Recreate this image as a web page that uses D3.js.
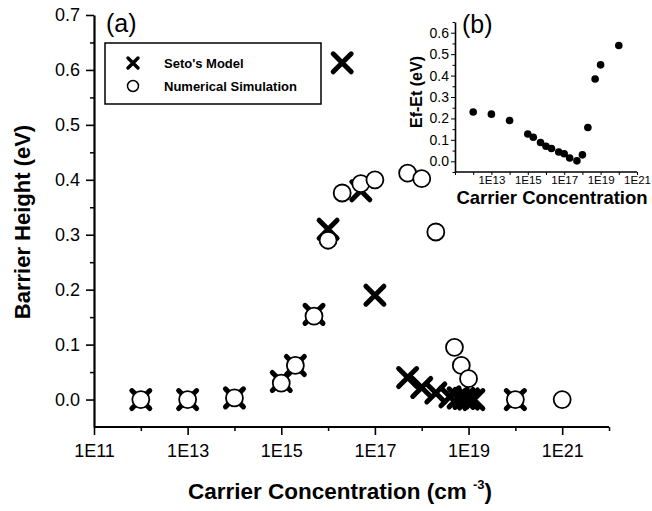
<!DOCTYPE html>
<html>
<head>
<meta charset="utf-8">
<script src="https://cdn.jsdelivr.net/npm/d3@7"></script>
<style>
  body { margin: 0; background: #fff; }
  text { font-family: "Liberation Sans", Arial, sans-serif; fill: #000; }
  .axis path, .axis line { stroke: #000; }
</style>
</head>
<body>
<script>
// main plot data (a)
var setoX = [1e12, 1e13, 1e14, 1e15, 2e15, 5e15, 1e16, 2e16, 5e16, 1e17, 5e17, 1e18, 2e18, 4e18, 6e18, 8e18, 1e19, 1.3e19, 1e20];
var setoY = [0, 0, 0.003, 0.033, 0.062, 0.155, 0.31, 0.613, 0.38, 0.19, 0.04, 0.022, 0.012, 0.005, 0.003, 0.002, 0.001, 0, 0];
var simX = [1e12, 1e13, 1e14, 1e15, 2e15, 5e15, 1e16, 2e16, 5e16, 1e17, 5e17, 1e18, 2e18, 5e18, 7e18, 1e19, 1e20, 1e21];
var simY = [0, 0, 0.003, 0.03, 0.062, 0.152, 0.29, 0.376, 0.393, 0.40, 0.412, 0.402, 0.305, 0.095, 0.062, 0.038, 0, 0];

// inset data (b)
var insetX = [1e12, 1e13, 1e14, 1e15, 2e15, 5e15, 1e16, 2e16, 5e16, 1e17, 2e17, 5e17, 1e18, 2e18, 5e18, 1e19, 1e20];
var insetY = [0.23, 0.22, 0.19, 0.127, 0.112, 0.088, 0.07, 0.06, 0.043, 0.035, 0.015, 0.002, 0.03, 0.158, 0.384, 0.45, 0.54];

var xMajor = [1e11, 1e13, 1e15, 1e17, 1e19, 1e21];
var xMinor = [1e12, 1e14, 1e16, 1e18, 1e20, 1e22];
var yMajor = [0, 0.1, 0.2, 0.3, 0.4, 0.5, 0.6, 0.7];
var yMinor = [0.05, 0.15, 0.25, 0.35, 0.45, 0.55, 0.65];
var insetXLabels = [1e13, 1e15, 1e17, 1e19, 1e21];
var insetXTicks = [1e11, 1e12, 1e13, 1e14, 1e15, 1e16, 1e17, 1e18, 1e19, 1e20, 1e21];
var insetYMajor = [0, 0.1, 0.2, 0.3, 0.4, 0.5, 0.6];
var insetYMinor = [-0.05, 0.05, 0.15, 0.25, 0.35, 0.45, 0.55, 0.65];

var w = 652;
var h = 511;
var svg = d3.select("body")
    .append("svg")
    .attr("width", w)
    .attr("height", h);

function expLabel(d) {
    return "1E" + Math.round(Math.log10(d));
}

// ----- main plot -----
var xScale = d3.scaleLog().domain([1e11, 1e22]).range([94, 609]);
var yScale = d3.scaleLinear().domain([-0.05, 0.7]).range([427, 15]);

// minor ticks first
svg.append("g")
    .attr("class", "axis")
    .attr("transform", "translate(0,427)")
    .call(d3.axisBottom(xScale).tickValues(xMinor).tickSize(4).tickSizeOuter(0).tickFormat(""))
    .call(function (g) { g.select(".domain").remove(); })
    .selectAll("line").attr("stroke-width", 1.5);

svg.append("g")
    .attr("class", "axis")
    .attr("transform", "translate(94,0)")
    .call(d3.axisLeft(yScale).tickValues(yMinor).tickSize(4).tickSizeOuter(0).tickFormat(""))
    .call(function (g) { g.select(".domain").remove(); })
    .selectAll("line").attr("stroke-width", 1.5);

var xAxis = svg.append("g")
    .attr("class", "axis")
    .attr("transform", "translate(0,427)")
    .call(d3.axisBottom(xScale).tickValues(xMajor).tickSize(8).tickSizeOuter(0).tickPadding(9).tickFormat(expLabel));
xAxis.select(".domain").attr("stroke-width", 2.2).attr("d", "M94,0H609");
xAxis.selectAll("line").attr("stroke-width", 1.6);
xAxis.selectAll("text").style("font-size", "18px");

var yAxis = svg.append("g")
    .attr("class", "axis")
    .attr("transform", "translate(94,0)")
    .call(d3.axisLeft(yScale).tickValues(yMajor).tickSize(8).tickSizeOuter(0).tickPadding(6).tickFormat(d3.format(".1f")));
yAxis.select(".domain").attr("stroke-width", 2.2);
yAxis.selectAll("line").attr("stroke-width", 1.6);
yAxis.selectAll("text").style("font-size", "18px");

var xLabel = svg.append("text")
    .attr("x", 340)
    .attr("y", 499)
    .attr("text-anchor", "middle")
    .attr("font-weight", "bold")
    .style("font-size", "22.5px");
xLabel.append("tspan").text("Carrier Concentration (cm ");
xLabel.append("tspan").attr("dy", -10).style("font-size", "13px").text("-3");
xLabel.append("tspan").attr("dy", 10).text(")");

svg.append("text")
    .attr("transform", "translate(30,222) rotate(-90)")
    .attr("text-anchor", "middle")
    .attr("font-weight", "bold")
    .style("font-size", "22px")
    .text("Barrier Height (eV)");

svg.append("text")
    .attr("x", 106)
    .attr("y", 32)
    .style("font-size", "25px")
    .text("(a)");

var setoData = setoX.map(function (x, i) { return { x: x, y: setoY[i] }; });
var simData = simX.map(function (x, i) { return { x: x, y: simY[i] }; });

function drawX(g, cx, cy, r, sw) {
    g.append("path")
        .attr("d", "M" + (cx - r) + "," + (cy - r) + "L" + (cx + r) + "," + (cy + r) +
            "M" + (cx - r) + "," + (cy + r) + "L" + (cx + r) + "," + (cy - r))
        .attr("stroke", "#000")
        .attr("stroke-width", sw)
        .attr("stroke-linecap", "round");
}

// Seto's model crosses, simulation circles on top
var marks = svg.append("g");
setoData.forEach(function (d) {
    drawX(marks, xScale(d.x), yScale(d.y), 9, 5);
});

marks.selectAll("circle")
    .data(simData)
    .enter()
    .append("circle")
    .attr("cx", function (d) { return xScale(d.x); })
    .attr("cy", function (d) { return yScale(d.y); })
    .attr("r", 8.5)
    .attr("fill", "#fff")
    .attr("stroke", "#000")
    .attr("stroke-width", 1.8);

// legend
var legend = svg.append("g");
legend.append("rect")
    .attr("x", 105).attr("y", 43)
    .attr("width", 216).attr("height", 61)
    .attr("fill", "#fff")
    .attr("stroke", "#000")
    .attr("stroke-width", 1.5);
drawX(legend, 133, 63, 5, 3.5);
legend.append("circle")
    .attr("cx", 133).attr("cy", 86).attr("r", 5.5)
    .attr("fill", "#fff").attr("stroke", "#000").attr("stroke-width", 1.5);
legend.append("text")
    .attr("x", 164).attr("y", 68)
    .attr("font-weight", "bold")
    .style("font-size", "13px")
    .text("Seto's Model");
legend.append("text")
    .attr("x", 164).attr("y", 91)
    .attr("font-weight", "bold")
    .style("font-size", "13px")
    .text("Numerical Simulation");

// ----- inset (b) -----
var ixScale = d3.scaleLog().domain([1e11, 1e21]).range([455, 637]);
var iyScale = d3.scaleLinear().domain([-0.05, 0.65]).range([172, 22]);

svg.append("g")
    .attr("class", "axis")
    .attr("transform", "translate(455,0)")
    .call(d3.axisLeft(iyScale).tickValues(insetYMinor).tickSize(2.5).tickSizeOuter(0).tickFormat(""))
    .call(function (g) { g.select(".domain").remove(); });

svg.append("g")
    .attr("class", "axis")
    .attr("transform", "translate(0,172)")
    .call(d3.axisBottom(ixScale).tickValues(insetXTicks).tickSize(3).tickSizeOuter(0).tickFormat(""))
    .call(function (g) { g.select(".domain").remove(); });

var ixAxis = svg.append("g")
    .attr("class", "axis")
    .attr("transform", "translate(0,172)")
    .call(d3.axisBottom(ixScale).tickValues(insetXLabels).tickSize(0).tickSizeOuter(0).tickPadding(4).tickFormat(expLabel));
ixAxis.select(".domain").attr("stroke-width", 1.6).attr("d", "M455,0H637");
ixAxis.selectAll("text").style("font-size", "11.5px");

var iyAxis = svg.append("g")
    .attr("class", "axis")
    .attr("transform", "translate(455,0)")
    .call(d3.axisLeft(iyScale).tickValues(insetYMajor).tickSize(4).tickSizeOuter(0).tickPadding(2).tickFormat(d3.format(".1f")));
iyAxis.select(".domain").attr("stroke-width", 1.6);
iyAxis.selectAll("text").style("font-size", "14px");

svg.append("text")
    .attr("x", 552)
    .attr("y", 204)
    .attr("text-anchor", "middle")
    .attr("font-weight", "bold")
    .style("font-size", "18.5px")
    .text("Carrier Concentration");

svg.append("text")
    .attr("transform", "translate(422,92) rotate(-90)")
    .attr("text-anchor", "middle")
    .attr("font-weight", "bold")
    .style("font-size", "16px")
    .text("Ef-Et (eV)");

svg.append("text")
    .attr("x", 462)
    .attr("y", 33)
    .style("font-size", "25px")
    .text("(b)");

svg.append("g")
    .selectAll("circle")
    .data(insetX.map(function (x, i) { return { x: x, y: insetY[i] }; }))
    .enter()
    .append("circle")
    .attr("cx", function (d) { return ixScale(d.x); })
    .attr("cy", function (d) { return iyScale(d.y); })
    .attr("r", 3.8)
    .attr("fill", "#000");
</script>
</body>
</html>
